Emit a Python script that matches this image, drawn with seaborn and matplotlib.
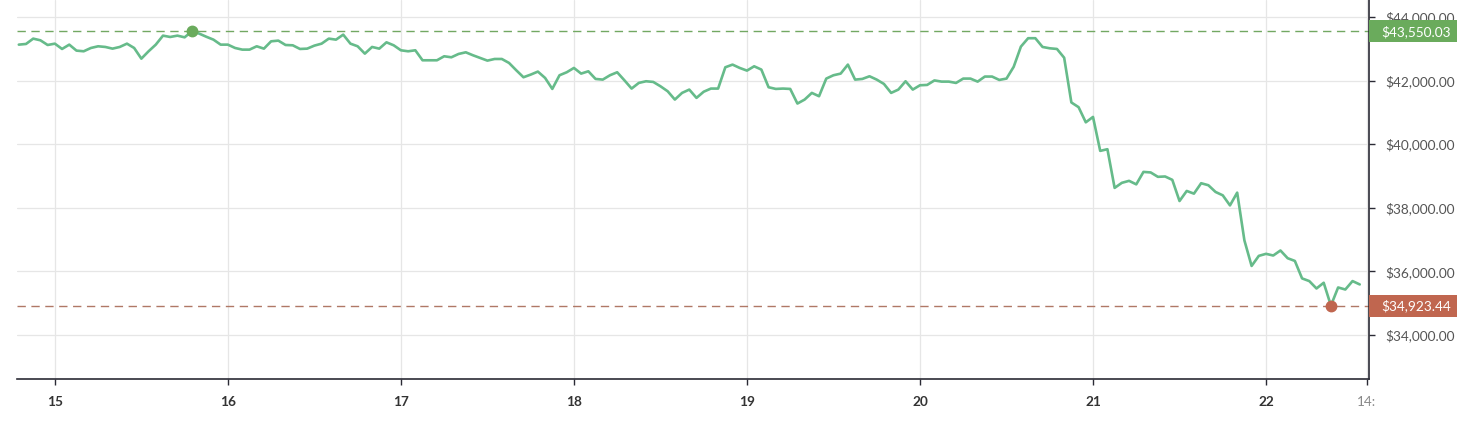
import numpy as np
import pandas as pd
import matplotlib
matplotlib.use("Agg")
import matplotlib.pyplot as plt
import matplotlib.dates as mdates
import matplotlib.transforms as mtransforms
from matplotlib.patches import Rectangle
import seaborn as sns

# ---------------- data ----------------
start_time = "2022-01-14 19:00"
prices = [
    43131, 43152, 43320, 43267, 43120, 43162, 42995, 43131, 42943, 42922,
    43026, 43079, 43058, 43005, 43058, 43162, 43026, 42690, 42922, 43131,
    43414, 43372, 43414, 43361, 43550.03, 43480, 43380, 43288, 43131, 43131,
    43026, 42974, 42974, 43079, 43005, 43236, 43257, 43120, 43110, 42995,
    43005, 43100, 43162, 43320, 43288, 43445, 43162, 43079, 42848, 43058,
    43005, 43204, 43110, 42953, 42922, 42953, 42639, 42639, 42639, 42765,
    42733, 42838, 42890, 42796, 42712, 42628, 42680, 42680, 42555, 42325,
    42105, 42188, 42283, 42084, 41738, 42168, 42262, 42398, 42220, 42293,
    42052, 42031, 42168, 42262, 42010, 41749, 41927, 41979, 41958, 41822,
    41665, 41403, 41613, 41717, 41456, 41650, 41749, 41749, 42419, 42503,
    42398, 42314, 42450, 42346, 41791, 41738, 41749, 41738, 41278, 41403,
    41613, 41508, 42063, 42168, 42220, 42503, 42031, 42052, 42136, 42031,
    41895, 41613, 41717, 41979, 41717, 41853, 41864, 42005, 41968, 41968,
    41926, 42063, 42063, 41968, 42127, 42127, 42021, 42063, 42434, 43069,
    43333, 43333, 43058, 43016, 42995, 42719, 41312, 41164, 40688, 40857,
    39789, 39842, 38625, 38784, 38847, 38736, 39128, 39111, 38973, 38984,
    38878, 38212, 38529, 38444, 38772, 38709, 38497, 38391, 38074, 38476,
    36974, 36170, 36487, 36551, 36498, 36656, 36413, 36328, 35778, 35694,
    35461, 35641, 34923.44, 35493, 35429, 35694, 35588,
]
y_ticks = [34000, 36000, 38000, 40000, 42000, 44000]
day_ticks = ["2022-01-15", "2022-01-16", "2022-01-17", "2022-01-18",
             "2022-01-19", "2022-01-20", "2022-01-21", "2022-01-22"]
day_labels = ["15", "16", "17", "18", "19", "20", "21", "22"]
extra_tick = "2022-01-22 14:00"
extra_label = "14:"

times = pd.date_range(start_time, periods=len(prices), freq="h")
df = pd.DataFrame({"time": times, "price": prices})

# ---------------- style ----------------
sns.set_theme(style="white")
plt.rcParams["font.family"] = ["Lato", "DejaVu Sans"]

line_color = "#66bb8a"
max_color = "#6aab5c"
min_color = "#c0664f"
grid_color = "#e6e6e6"
spine_color = "#2b2b35"

fig = plt.figure(figsize=(14.73, 4.21), dpi=100)
ax = fig.add_axes([17 / 1473, 42 / 421, (1369 - 17) / 1473, 379 / 421])

sns.lineplot(data=df, x="time", y="price", ax=ax, color=line_color,
             linewidth=1.9, zorder=3)

# extremes
imax = int(np.argmax(prices))
imin = int(np.argmin(prices))
vmax = prices[imax]
vmin = prices[imin]

ax.axhline(vmax, color="#72a862", lw=1.0, ls=(0, (6, 4)), zorder=2)
ax.axhline(vmin, color="#b07866", lw=1.0, ls=(0, (6, 4)), zorder=2)
ax.plot([times[imax]], [vmax], "o", color=max_color, ms=7.5, zorder=4)
ax.plot([times[imin]], [vmin], "o", color=min_color, ms=7.5, zorder=4)

# axis limits
ax.set_xlim(pd.Timestamp("2022-01-14 18:45"), pd.Timestamp("2022-01-22 14:17"))
ax.set_ylim(32614, 44535)

# ticks
xt = [mdates.date2num(pd.Timestamp(d)) for d in day_ticks] + \
     [mdates.date2num(pd.Timestamp(extra_tick))]
ax.set_xticks(xt)
ax.set_xticklabels(day_labels + [extra_label])
for lab in ax.get_xticklabels()[:-1]:
    lab.set_fontweight("bold")
    lab.set_color("#333333")
    lab.set_fontsize(9.8)
last = ax.get_xticklabels()[-1]
last.set_color("#888888")
last.set_fontsize(9.8)

ax.yaxis.tick_right()
ax.set_yticks(y_ticks)
ax.set_yticklabels([f"${v:,.2f}" for v in y_ticks])
ax.tick_params(axis="y", which="both", right=True, length=4, width=1,
               color=spine_color, pad=8, labelsize=9.8, labelcolor="#555555")
ax.tick_params(axis="x", which="both", bottom=True, length=4, width=1,
               color=spine_color, pad=8)

ax.set_xlabel("")
ax.set_ylabel("")

# grid
ax.grid(True, color=grid_color, lw=0.9, zorder=0)
ax.set_axisbelow(True)

for s in ["left", "top"]:
    ax.spines[s].set_visible(False)
for s in ["right", "bottom"]:
    ax.spines[s].set_visible(True)
    ax.spines[s].set_color(spine_color)
    ax.spines[s].set_linewidth(1.2)

# label boxes on the right axis
trans = mtransforms.blended_transform_factory(ax.transAxes, ax.transData)
box_w = 88 / 1352
box_h = 22 / 31.75 * 1000
for val, col in [(vmax, max_color), (vmin, min_color)]:
    ax.add_patch(Rectangle((1.0, val - box_h / 2), box_w, box_h,
                           transform=trans, facecolor=col, edgecolor="none",
                           clip_on=False, zorder=5))
    ax.text(1.0 + 12 / 1352, val, f"${val:,.2f}", transform=trans,
            ha="left", va="center", color="white", fontsize=9.8,
            zorder=6, clip_on=False)

fig.savefig("out.png", dpi=100)
